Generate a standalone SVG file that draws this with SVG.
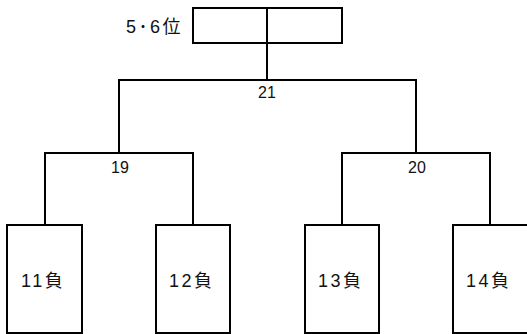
<svg xmlns="http://www.w3.org/2000/svg" width="527" height="334" viewBox="0 0 527 334">
<style>
.box{fill:#fff;stroke:#000;stroke-width:2}
.ln{fill:none;stroke:#000;stroke-width:2}
.lbl{font-family:"Liberation Sans","Noto Sans CJK JP",sans-serif;font-size:18px;fill:#111;letter-spacing:2.5px}
.num{font-family:"Liberation Sans","Noto Sans CJK JP",sans-serif;font-size:16px;fill:#111;text-anchor:middle}
</style>
<rect width="527" height="334" fill="#fff"/>
<g id="connectors">
<path class="ln" d="M267 43V80M119 153V80H416V153"/>
<path class="ln" d="M45 225V153H193V225"/>
<path class="ln" d="M342 225V153H490V225"/>
</g>
<g id="top">
<rect class="box" x="193" y="8" width="149" height="35"/>
<path class="ln" d="M267 8V43"/>
<text class="lbl" x="126" y="33">5･6位</text>
</g>
<g id="m21"><text class="num" x="267" y="98">21</text></g>
<g id="m19"><text class="num" x="120" y="173">19</text></g>
<g id="m20"><text class="num" x="417" y="173">20</text></g>
<g id="l11"><rect class="box" x="7" y="225" width="75" height="108"/><text class="lbl" x="21" y="287">11負</text></g>
<g id="l12"><rect class="box" x="156" y="225" width="74" height="108"/><text class="lbl" x="169" y="287">12負</text></g>
<g id="l13"><rect class="box" x="305" y="225" width="74" height="108"/><text class="lbl" x="318" y="287">13負</text></g>
<g id="l14"><rect class="box" x="453" y="225" width="80" height="108"/><text class="lbl" x="466" y="287">14負</text></g>
</svg>
